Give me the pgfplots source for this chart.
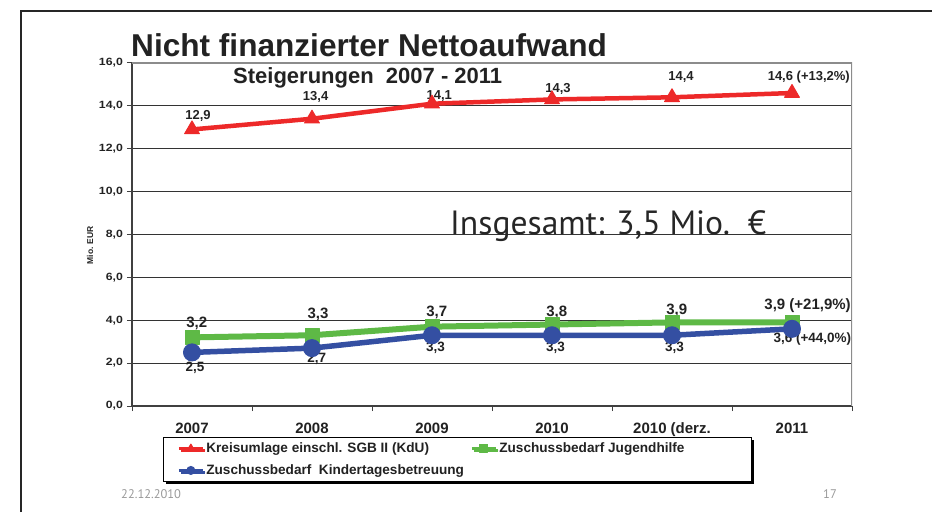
\documentclass[border=0pt]{standalone}
\usepackage{pgfplots}
\pgfplotsset{compat=1.18}
\usepackage{fontspec}
\setmainfont{Liberation Sans}
\newfontfamily\myriad{PT Sans}
\usetikzlibrary{shadows}
\definecolor{cred}{RGB}{237,41,41}
\definecolor{cgreen}{RGB}{94,185,70}
\definecolor{cblue}{RGB}{52,79,162}
\definecolor{ctxt}{RGB}{34,34,34}
\newcommand{\legf}{\fontsize{13.6}{13.6}\selectfont\bfseries}
\begin{document}
\begin{tikzpicture}[x=1pt,y=1pt]
\useasboundingbox (0,0) rectangle (932,512);
\draw[line width=1.3pt, black!85] (21,0) -- (21,501) -- (932,501);
\node[anchor=base west, inner sep=0, text=ctxt, font=\fontsize{31.6}{31.6}\selectfont\bfseries] at (131,455) {Nicht finanzierter Nettoaufwand};
\begin{axis}[
  at={(132pt,106pt)}, anchor=south west,
  width=720pt, height=343pt, scale only axis,
  xmin=-0.5, xmax=5.5, ymin=0, ymax=16,
  axis lines=left, axis line style={-, line width=1.3pt, black!75},
  tick align=outside,
  ytick={0,2,...,16},
  ymajorgrids, grid style={black!80, line width=0.8pt},
  major tick length=5pt,
  tick style={line width=1pt, black!75},
  xtick={0,...,5},
  xticklabels={2007,2008,2009,2010,2010 (derz.,2011},
  major x tick style={draw=none},
  extra x ticks={-0.5,0.5,1.5,2.5,3.5,4.5,5.5},
  extra x tick labels={},
  extra x tick style={major x tick style={draw=black!75, line width=1pt}, grid=none},
  x tick label style={font=\fontsize{15}{15}\selectfont\bfseries, text=ctxt, yshift=-8pt},
  y tick label style={font=\fontsize{10.5}{10.5}\selectfont\bfseries, text=ctxt, xscale=1.17,
    /pgf/number format/fixed, /pgf/number format/fixed zerofill, /pgf/number format/precision=1,
    /pgf/number format/use comma, /pgf/number format/assume math mode=true},
  ylabel={Mio. EUR},
  ylabel style={font=\fontsize{8.5}{8.5}\selectfont\bfseries, text=ctxt, at={(axis description cs:-0.0583,0.469)}, anchor=center},
  legend columns=2,
  legend style={at={(axis description cs:0.043,-0.0904)}, anchor=north west,
    draw=black, line width=0.8pt, fill=white,
    drop shadow={shadow xshift=2.5pt, shadow yshift=-2.5pt, opacity=1, fill=black},
    text=ctxt,
    inner xsep=14pt, inner ysep=3pt, row sep=7pt,
    cells={anchor=west}},
  legend image code/.code={\draw[#1, mark repeat=2, mark phase=2] plot coordinates {(0pt,0pt) (12pt,0pt) (24pt,0pt)};},
  legend image post style={mark size=4pt, line width=3pt},
]
\addplot[cred, line width=4.5pt, line join=round, mark=triangle*, mark size=8.5pt, mark options={line width=1pt, solid}] coordinates {(0,12.9)(1,13.4)(2,14.1)(3,14.3)(4,14.4)(5,14.6)};
\addlegendentry{\makebox[262pt][l]{\legf Kreisumlage einschl. SGB II (KdU)}}
\addplot[cgreen, line width=6pt, line join=round, mark=square*, mark size=7pt, mark options={line width=1pt, solid}] coordinates {(0,3.2)(1,3.3)(2,3.7)(3,3.8)(4,3.9)(5,3.9)};
\addlegendentry{\makebox[236pt][l]{\legf Zuschussbedarf Jugendhilfe}}
\addplot[cblue, line width=5.5pt, line join=round, mark=*, mark size=8.5pt, mark options={line width=1pt, solid}] coordinates {(0,2.5)(1,2.7)(2,3.3)(3,3.3)(4,3.3)(5,3.6)};
\addlegendentry{\legf Zuschussbedarf\ \ Kindertagesbetreuung}
\draw[black!45, line width=1.2pt] (rel axis cs:0,1) -- (rel axis cs:1,1) -- (rel axis cs:1,0);
% red labels
\begin{scope}[every node/.style={font=\fontsize{13}{13}\selectfont\bfseries, text=ctxt}]
\node at (0.05,13.53) {12,9};
\node at (1.03,14.41) {13,4};
\node at (2.06,14.45) {14,1};
\node at (3.05,14.79) {14,3};
\node at (4.075,15.35) {14,4};
\node at (5.14,15.35) {14,6 (+13,2\%)};
\end{scope}
\begin{scope}[every node/.style={font=\fontsize{15}{15}\selectfont\bfseries, text=ctxt}]
\node at (0.04,3.87) {3,2};
\node at (1.05,4.29) {3,3};
\node at (2.04,4.38) {3,7};
\node at (3.04,4.38) {3,8};
\node at (4.04,4.48) {3,9};
\node at (5.13,4.66) {3,9 (+21,9\%)};
\end{scope}
\begin{scope}[every node/.style={font=\fontsize{13.5}{13.5}\selectfont\bfseries, text=ctxt}]
\node at (0.025,1.77) {2,5};
\node at (1.04,2.19) {2,7};
\node at (2.03,2.71) {3,3};
\node at (3.03,2.71) {3,3};
\node at (4.02,2.71) {3,3};
\node at (5.17,3.13) {3,6 (+44,0\%)};
\end{scope}
\end{axis}
\node[anchor=base west, inner sep=0, text=ctxt, font=\fontsize{22}{22}\selectfont\bfseries] at (233,428) {Steigerungen\ \ 2007 - 2011};
\node[anchor=base west, inner sep=0, font=\myriad\fontsize{33.6}{33.6}\selectfont, text=black!85] at (450,277) {Insgesamt: 3,5 Mio.\ \ €};
\node[anchor=base west, inner sep=0, font=\myriad\fontsize{12.5}{12.5}\selectfont, text=black!40] at (121,14) {22.12.2010};
\node[anchor=base west, inner sep=0, font=\myriad\fontsize{12.5}{12.5}\selectfont, text=black!40] at (823,14) {17};
\end{tikzpicture}
\end{document}
